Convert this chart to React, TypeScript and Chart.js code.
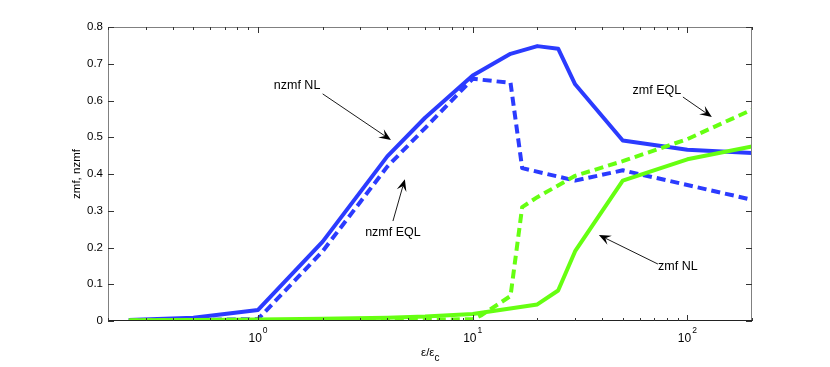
import React, { useEffect, useRef } from 'react';
import { Chart, registerables } from 'chart.js';

Chart.register(...registerables);

// ---- data ----
const nzmfNLx = [0.25, 0.5, 1, 2, 4, 6, 10, 15, 20, 25, 30, 50, 100, 200];
const nzmfNLy = [0.003, 0.009, 0.03, 0.216, 0.448, 0.553, 0.668, 0.727, 0.748, 0.741, 0.644, 0.491, 0.466, 0.457];

const nzmfEQLx = [0.25, 0.5, 1, 2, 4, 6, 10, 15, 17, 30, 50, 100, 200];
const nzmfEQLy = [0.002, 0.003, 0.005, 0.19, 0.42, 0.525, 0.659, 0.648, 0.416, 0.382, 0.41, 0.37, 0.33];

const zmfEQLx = [0.25, 1, 5, 10, 11, 15, 17, 20, 30, 50, 100, 200];
const zmfEQLy = [0.001, 0.002, 0.003, 0.005, 0.016, 0.068, 0.31, 0.337, 0.395, 0.435, 0.495, 0.575];

const zmfNLx = [0.25, 0.5, 1, 2, 4, 6, 10, 20, 25, 30, 50, 100, 200];
const zmfNLy = [0.002, 0.003, 0.004, 0.006, 0.009, 0.012, 0.019, 0.045, 0.083, 0.19, 0.382, 0.44, 0.475];

const xMajorTicks = [1, 10, 100];
const xMajorExponents = ['0', '1', '2'];
const yTicks = [0, 0.1, 0.2, 0.3, 0.4, 0.5, 0.6, 0.7, 0.8];
const yTickLabels = ['0', '0.1', '0.2', '0.3', '0.4', '0.5', '0.6', '0.7', '0.8'];

const annotationTexts = ['nzmf NL', 'nzmf EQL', 'zmf EQL', 'zmf NL'];
// text anchor (data coords), arrow tail, arrow head
const annotationTextPos = [[1.52, 0.642], [4.25, 0.2395], [72.1, 0.626], [90.3, 0.147]];
const annotationTail = [[2.0, 0.618], [4.25, 0.272], [95.3, 0.6095], [72.9, 0.155]];
const annotationHead = [[4.16, 0.4925], [4.83, 0.386], [130, 0.555], [38.7, 0.234]];

const BLUE = '#2b3bff';
const GREEN = '#66ff11';
const FONT = '"Liberation Sans", Arial, Helvetica, sans-serif';

function toPts(xs: number[], ys: number[]) {
  return xs.map((x, i) => ({ x, y: ys[i] }));
}

const axesPlugin = {
  id: 'matlabAxes',
  afterDatasetsDraw(chart: any) {
    const ctx = chart.ctx as CanvasRenderingContext2D;
    const { left, right, top, bottom } = chart.chartArea;
    const xs = chart.scales.x;
    const ys = chart.scales.y;
    ctx.save();
    // box
    ctx.lineWidth = 1;
    ctx.strokeStyle = '#808080';
    ctx.beginPath();
    ctx.moveTo(left + 0.5, bottom);
    ctx.lineTo(left + 0.5, top + 0.5);
    ctx.lineTo(right - 0.5, top + 0.5);
    ctx.lineTo(right - 0.5, bottom);
    ctx.stroke();
    ctx.strokeStyle = '#222';
    ctx.beginPath();
    ctx.moveTo(left, bottom - 0.5);
    ctx.lineTo(right, bottom - 0.5);
    ctx.stroke();

    // y ticks
    ctx.strokeStyle = '#333';
    yTicks.forEach((v) => {
      const py = Math.round(ys.getPixelForValue(v)) + 0.5;
      ctx.beginPath();
      ctx.moveTo(left, py);
      ctx.lineTo(left + 6, py);
      ctx.moveTo(right, py);
      ctx.lineTo(right - 6, py);
      ctx.stroke();
    });
    // x ticks (major + minor)
    for (let d = -1; d <= 2; d++) {
      for (let m = 1; m <= 9; m++) {
        const v = m * Math.pow(10, d);
        if (v < 0.2 - 1e-9 || v > 200 + 1e-9) continue;
        const px = Math.round(xs.getPixelForValue(v)) + 0.5;
        const len = m === 1 ? 6 : 3;
        ctx.beginPath();
        ctx.moveTo(px, bottom);
        ctx.lineTo(px, bottom - len);
        ctx.moveTo(px, top);
        ctx.lineTo(px, top + len);
        ctx.stroke();
      }
    }

    // y tick labels
    ctx.fillStyle = '#000';
    ctx.font = `11.5px ${FONT}`;
    ctx.textAlign = 'right';
    ctx.textBaseline = 'middle';
    yTicks.forEach((v, i) => {
      ctx.fillText(yTickLabels[i], left - 5, ys.getPixelForValue(v));
    });

    // x tick labels with superscripts
    xMajorTicks.forEach((v, i) => {
      const px = xs.getPixelForValue(v);
      ctx.font = `12px ${FONT}`;
      const w1 = ctx.measureText('10').width;
      ctx.font = `8.5px ${FONT}`;
      const w2 = ctx.measureText(xMajorExponents[i]).width;
      const x0 = px - (w1 + w2 + 1) / 2;
      ctx.textAlign = 'left';
      ctx.textBaseline = 'alphabetic';
      ctx.font = `12px ${FONT}`;
      ctx.fillText('10', x0, bottom + 21);
      ctx.font = `8.5px ${FONT}`;
      ctx.fillText(xMajorExponents[i], x0 + w1 + 1, bottom + 12);
    });

    // x title  ε/ε_c
    const cx = (left + right) / 2;
    ctx.font = `11.5px ${FONT}`;
    const t1 = 'ε/ε';
    const wt1 = ctx.measureText(t1).width;
    ctx.font = `9px ${FONT}`;
    const wt2 = ctx.measureText('c').width;
    const xs0 = cx - (wt1 + wt2) / 2;
    ctx.font = `11.5px ${FONT}`;
    ctx.textAlign = 'left';
    ctx.fillText(t1, xs0, bottom + 35);
    ctx.font = `10px ${FONT}`;
    ctx.fillText('c', xs0 + wt1, bottom + 40);

    // y title
    ctx.save();
    ctx.translate(left - 31, (top + bottom) / 2);
    ctx.rotate(-Math.PI / 2);
    ctx.font = `11.5px ${FONT}`;
    ctx.textAlign = 'center';
    ctx.textBaseline = 'middle';
    ctx.fillText('zmf, nzmf', 0, 0);
    ctx.restore();

    ctx.restore();
  },
  afterDraw(chart: any) {
    const ctx = chart.ctx as CanvasRenderingContext2D;
    const xs = chart.scales.x;
    const ys = chart.scales.y;
    ctx.save();
    annotationTexts.forEach((txt, i) => {
      const tx = xs.getPixelForValue(annotationTextPos[i][0]);
      const ty = ys.getPixelForValue(annotationTextPos[i][1]);
      ctx.fillStyle = '#000';
      ctx.font = `12.5px ${FONT}`;
      ctx.textAlign = 'center';
      ctx.textBaseline = 'middle';
      ctx.fillText(txt, tx, ty);

      const x0 = xs.getPixelForValue(annotationTail[i][0]);
      const y0 = ys.getPixelForValue(annotationTail[i][1]);
      const x1 = xs.getPixelForValue(annotationHead[i][0]);
      const y1 = ys.getPixelForValue(annotationHead[i][1]);
      const dx = x1 - x0, dy = y1 - y0;
      const L = Math.hypot(dx, dy);
      const ux = dx / L, uy = dy / L;
      const nx = -uy, ny = ux;
      const AL = 12, AW = 5;
      ctx.strokeStyle = '#000';
      ctx.lineWidth = 0.9;
      ctx.beginPath();
      ctx.moveTo(x0, y0);
      ctx.lineTo(x1 - ux * AL * 0.6, y1 - uy * AL * 0.6);
      ctx.stroke();
      ctx.beginPath();
      ctx.moveTo(x1, y1);
      ctx.lineTo(x1 - ux * AL + nx * AW, y1 - uy * AL + ny * AW);
      ctx.lineTo(x1 - ux * AL * 0.6, y1 - uy * AL * 0.6);
      ctx.lineTo(x1 - ux * AL - nx * AW, y1 - uy * AL - ny * AW);
      ctx.closePath();
      ctx.fill();
    });
    ctx.restore();
  },
};

export default function App() {
  const ref = useRef<HTMLCanvasElement | null>(null);
  useEffect(() => {
    document.body.style.margin = '0';
    const canvas = ref.current;
    if (!canvas) return;
    const chart = new Chart(canvas, {
      type: 'line',
      data: {
        datasets: [
          { label: 'zmf NL', data: toPts(zmfNLx, zmfNLy), borderColor: GREEN, borderWidth: 4, order: 0 },
          { label: 'zmf EQL', data: toPts(zmfEQLx, zmfEQLy), borderColor: GREEN, borderWidth: 4, borderDash: [9, 5], order: 1 },
          { label: 'nzmf EQL', data: toPts(nzmfEQLx, nzmfEQLy), borderColor: BLUE, borderWidth: 4, borderDash: [9, 5], order: 2 },
          { label: 'nzmf NL', data: toPts(nzmfNLx, nzmfNLy), borderColor: BLUE, borderWidth: 4, order: 3 },
        ] as any,
      },
      options: {
        animation: false,
        responsive: false,
        parsing: true,
        layout: { padding: { left: 108, right: 78, top: 27, bottom: 46 } },
        elements: {
          point: { radius: 0 },
          line: { tension: 0, fill: false, borderJoinStyle: 'round', borderCapStyle: 'butt' },
        },
        plugins: { legend: { display: false }, tooltip: { enabled: false } },
        scales: {
          x: { type: 'logarithmic', min: 0.2, max: 200, display: false },
          y: { type: 'linear', min: 0, max: 0.8, display: false },
        },
      } as any,
      plugins: [axesPlugin],
    });
    return () => chart.destroy();
  }, []);
  return (
    <div style={{ width: 830, height: 367, background: '#fff' }}>
      <canvas ref={ref} width={830} height={367} style={{ display: 'block' }} />
    </div>
  );
}
